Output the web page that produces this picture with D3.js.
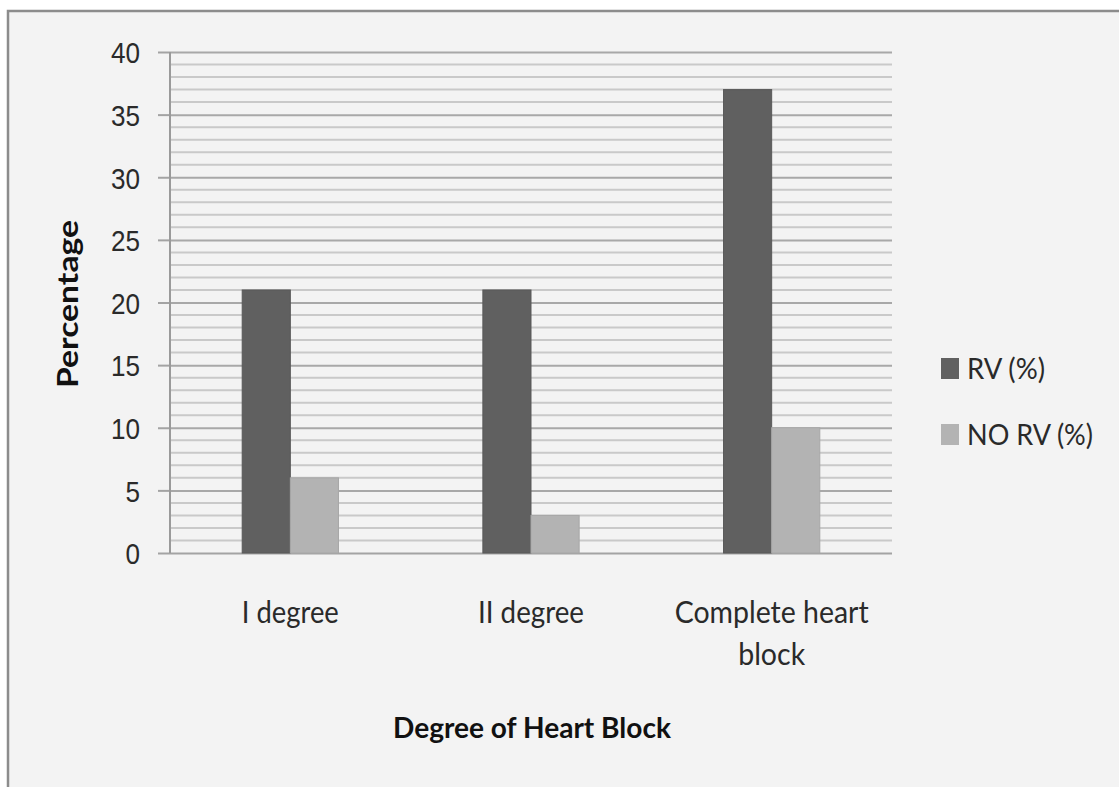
<!DOCTYPE html>
<html>
<head>
<meta charset="utf-8">
<script src="https://cdn.jsdelivr.net/npm/d3@7"></script>
<style>
  html, body { margin: 0; padding: 0; background: #fff; }
  svg { display: block; font-family: Lato, "Open Sans", sans-serif; }
</style>
</head>
<body>
<div id="chart"></div>
<script>
// Chart data
const categories = ["I degree", "II degree", "Complete heart block"];
const categoryLines = [["I degree"], ["II degree"], ["Complete heart", "block"]];
const seriesNames = ["RV (%)", "NO RV (%)"];
const rvValues = [21, 21, 37];
const noRvValues = [6, 3, 10];
const yTicks = [0, 5, 10, 15, 20, 25, 30, 35, 40];

(function () {
  const W = 1119, H = 787;
  const plot = { left: 170, right: 892, top: 52, bottom: 553 };
  const colors = ["#606060", "#b3b3b3"];

  const svg = d3.select("#chart").append("svg")
      .attr("width", W)
      .attr("height", H);

  // Chart area background + border (cut off at right/bottom like the source)
  svg.append("rect")
      .attr("x", 8).attr("y", 11)
      .attr("width", W + 10).attr("height", H + 10)
      .attr("fill", "#f3f3f3")
      .attr("stroke", "#8c8c8c")
      .attr("stroke-width", 2.5);

  const x = d3.scaleBand().domain(categories).range([plot.left, plot.right]);
  const xSub = d3.scaleBand().domain(seriesNames).range([0, x.bandwidth()]).paddingOuter(1.5);
  const y = d3.scaleLinear().domain([0, 40]).range([plot.bottom, plot.top]);

  // Minor gridlines (every 1 unit)
  svg.append("g")
      .selectAll("line")
      .data(d3.range(1, 40).filter(v => v % 5 !== 0))
      .join("line")
      .attr("x1", plot.left).attr("x2", plot.right)
      .attr("y1", d => y(d)).attr("y2", d => y(d))
      .attr("stroke", "#c9c9c9")
      .attr("stroke-width", 2);

  // Y axis with major gridlines
  const yAxis = svg.append("g")
      .attr("transform", `translate(${plot.left},0)`)
      .call(d3.axisLeft(y).tickValues(yTicks).tickSize(12).tickPadding(18))
      .call(g => g.select(".domain").remove());
  yAxis.selectAll(".tick line").attr("stroke", "#a3a3a3").attr("stroke-width", 2);
  yAxis.selectAll(".tick")
      .append("line")
      .attr("x1", 0).attr("x2", plot.right - plot.left)
      .attr("stroke", d => d === 0 ? "#a3a3a3" : "#a8a8a8")
      .attr("stroke-width", 2);
  yAxis.selectAll(".tick text")
      .attr("fill", "#2a2a2a")
      .style("font-size", "30px")
      .attr("dy", "0.36em")
      .attr("textLength", d => String(d).length * 14.5)
      .attr("lengthAdjust", "spacingAndGlyphs");

  // Vertical axis line
  svg.append("line")
      .attr("x1", plot.left).attr("x2", plot.left)
      .attr("y1", plot.top).attr("y2", plot.bottom)
      .attr("stroke", "#9a9a9a")
      .attr("stroke-width", 2);

  // Bars
  const groups = svg.append("g")
      .selectAll("g")
      .data(categories)
      .join("g")
      .attr("transform", d => `translate(${x(d)},0)`);

  groups.selectAll("rect")
      .data((d, i) => [
        { key: seriesNames[0], value: rvValues[i], c: colors[0] },
        { key: seriesNames[1], value: noRvValues[i], c: colors[1] }
      ])
      .join("rect")
      .attr("x", d => xSub(d.key))
      .attr("y", d => y(d.value))
      .attr("width", xSub.bandwidth())
      .attr("height", d => y(0) - y(d.value))
      .attr("fill", d => d.c)
      .attr("stroke", d => d3.color(d.c).darker(0.2))
      .attr("stroke-width", 1);

  // Category labels
  const lineWidths = { "I degree": 97, "II degree": 106, "Complete heart": 194, "block": 67 };
  categories.forEach((c, i) => {
    categoryLines[i].forEach((ln, j) => {
      svg.append("text")
          .attr("x", x(c) + x.bandwidth() / 2)
          .attr("y", 623 + j * 42)
          .attr("text-anchor", "middle")
          .attr("fill", "#2a2a2a")
          .style("font-size", "30px")
          .attr("textLength", lineWidths[ln])
          .attr("lengthAdjust", "spacingAndGlyphs")
          .text(ln);
    });
  });

  // Axis titles
  svg.append("text")
      .attr("x", (393 + 671) / 2)
      .attr("y", 738)
      .attr("text-anchor", "middle")
      .style("font-size", "29px")
      .style("font-weight", "bold")
      .attr("fill", "#111")
      .attr("textLength", 278)
      .attr("lengthAdjust", "spacingAndGlyphs")
      .text("Degree of Heart Block");

  svg.append("text")
      .attr("transform", "translate(78,304) rotate(-90)")
      .attr("text-anchor", "middle")
      .style("font-size", "29px")
      .style("font-weight", "bold")
      .attr("fill", "#111")
      .attr("textLength", 168)
      .attr("lengthAdjust", "spacingAndGlyphs")
      .text("Percentage");

  // Legend
  const legendWidths = [78, 126];
  const legend = svg.append("g")
      .selectAll("g")
      .data(seriesNames)
      .join("g")
      .attr("transform", (d, i) => `translate(941,${358 + i * 66})`);
  legend.append("rect")
      .attr("width", 18).attr("height", 21)
      .attr("fill", (d, i) => colors[i]);
  legend.append("text")
      .attr("x", 26).attr("y", 21)
      .attr("fill", "#2a2a2a")
      .style("font-size", "29px")
      .attr("textLength", (d, i) => legendWidths[i])
      .attr("lengthAdjust", "spacingAndGlyphs")
      .text(d => d);
})();
</script>
</body>
</html>
